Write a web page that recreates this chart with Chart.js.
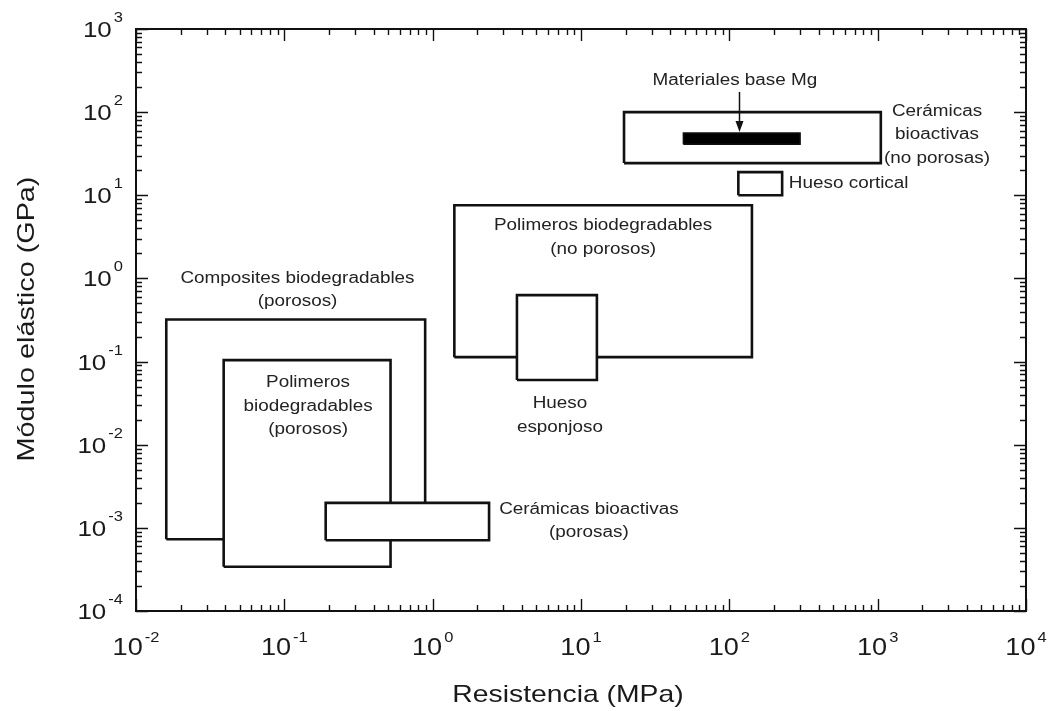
<!DOCTYPE html>
<html><head><meta charset="utf-8">
<script src="https://cdn.jsdelivr.net/npm/chart.js@4/dist/chart.umd.min.js"></script>
<style>html,body{margin:0;padding:0;background:#fff;}canvas{display:block;}</style>
</head><body>
<canvas id="c" width="1051" height="711"></canvas>
<script>
// ---- data ----
const materials = ['Composites biodegradables (porosos)', 'Polimeros biodegradables (porosos)', 'Cerámicas bioactivas (porosas)', 'Polimeros biodegradables (no porosos)', 'Hueso esponjoso', 'Cerámicas bioactivas (no porosas)', 'Materiales base Mg', 'Hueso cortical'];
const strengthMin = [0.016, 0.039, 0.19, 1.4, 3.7, 19.5, 49, 115];      // MPa
const strengthMax = [0.89, 0.52, 2.4, 142, 12.8, 1050, 300, 227];       // MPa
const modulusMin  = [7.3e-4, 3.4e-4, 7.1e-4, 0.113, 0.060, 24.4, 41, 10]; // GPa
const modulusMax  = [0.32, 0.104, 2.0e-3, 7.6, 0.63, 100, 56, 19];      // GPa
const solidMaterial = 'Materiales base Mg';

const xTickExponents = ['-2', '-1', '0', '1', '2', '3', '4'];
const yTickExponents = ['-4', '-3', '-2', '-1', '0', '1', '2', '3'];
const minorMultipliers = [2, 3, 4, 5, 6, 7, 8, 9];

const xTitle = 'Resistencia (MPa)';
const yTitle = 'Módulo elástico (GPa)';

// annotation texts and their anchors (data coordinates)
const noteLines = [['Materiales base Mg'], ['Cerámicas', 'bioactivas', '(no porosas)'], ['Hueso cortical'], ['Polimeros biodegradables', '(no porosos)'], ['Composites biodegradables', '(porosos)'], ['Polimeros', 'biodegradables', '(porosos)'], ['Hueso', 'esponjoso'], ['Cerámicas bioactivas', '(porosas)']];
const noteX = [109, 2512, 252, 14.1, 0.1227, 0.1445, 7.21, 11.3];
const noteY = [244, 106, 14.1, 4.4, 1.04, 0.0568, 0.0318, 1.73e-3];
const noteAlign = ['center', 'center', 'left', 'center', 'center', 'center', 'center', 'center'];

// arrow pointing to the Mg bar
const arrowX = [116, 116];
const arrowY = [175, 56];

// ---- drawing ----
const FONT = '"Liberation Sans", Arial, Helvetica, sans-serif';
const SX = 1.18;
const INK = '#111';

function drawText(ctx, s, x, y, size, align, sx) {
  sx = sx || SX;
  ctx.save();
  ctx.font = size + 'px ' + FONT;
  const w = ctx.measureText(s).width * sx;
  const x0 = align === 'center' ? x - w / 2 : (align === 'right' ? x - w : x);
  ctx.translate(x0, y);
  ctx.scale(sx, 1);
  ctx.textAlign = 'left';
  ctx.textBaseline = 'alphabetic';
  ctx.fillText(s, 0, 0);
  ctx.restore();
  return w;
}
function textWidth(ctx, s, size, sx) {
  ctx.save();
  ctx.font = size + 'px ' + FONT;
  const w = ctx.measureText(s).width * (sx || SX);
  ctx.restore();
  return w;
}

const decorPlugin = {
  id: 'decor',
  afterDatasetsDraw(chart) {
    const ctx = chart.ctx;
    const a = chart.chartArea;
    const xs = chart.scales.x, ys = chart.scales.y;
    ctx.save();
    ctx.strokeStyle = INK;
    ctx.fillStyle = INK;

    // minor + major ticks (inward, all four sides)
    ctx.lineWidth = 1.4;
    const xe = xTickExponents.map(Number), ye = yTickExponents.map(Number);
    ctx.beginPath();
    for (let i = 0; i < xe.length; i++) {
      const p = Math.round(xs.getPixelForValue(Math.pow(10, xe[i]))) + 0.5;
      ctx.moveTo(p, a.bottom); ctx.lineTo(p, a.bottom - 12);
      ctx.moveTo(p, a.top); ctx.lineTo(p, a.top + 12);
      if (i < xe.length - 1) {
        for (const m of minorMultipliers) {
          const q = Math.round(xs.getPixelForValue(m * Math.pow(10, xe[i]))) + 0.5;
          ctx.moveTo(q, a.bottom); ctx.lineTo(q, a.bottom - 6);
          ctx.moveTo(q, a.top); ctx.lineTo(q, a.top + 6);
        }
      }
    }
    for (let i = 0; i < ye.length; i++) {
      const p = Math.round(ys.getPixelForValue(Math.pow(10, ye[i]))) + 0.5;
      ctx.moveTo(a.left, p); ctx.lineTo(a.left + 12, p);
      ctx.moveTo(a.right, p); ctx.lineTo(a.right - 12, p);
      if (i < ye.length - 1) {
        for (const m of minorMultipliers) {
          const q = Math.round(ys.getPixelForValue(m * Math.pow(10, ye[i]))) + 0.5;
          ctx.moveTo(a.left, q); ctx.lineTo(a.left + 6, q);
          ctx.moveTo(a.right, q); ctx.lineTo(a.right - 6, q);
        }
      }
    }
    ctx.stroke();

    // frame
    ctx.lineWidth = 2;
    ctx.strokeRect(a.left, a.top, a.right - a.left, a.bottom - a.top);

    // tick labels
    ctx.fillStyle = '#1a1a1a';
    for (let i = 0; i < xTickExponents.length; i++) {
      const p = xs.getPixelForValue(Math.pow(10, xe[i]));
      const wb = textWidth(ctx, '10', 23), we = textWidth(ctx, xTickExponents[i], 14);
      const left = p - (wb + 2 + we) / 2;
      drawText(ctx, '10', left, a.bottom + 44, 23, 'left');
      drawText(ctx, xTickExponents[i], left + wb + 2, a.bottom + 31, 14, 'left');
    }
    for (let i = 0; i < yTickExponents.length; i++) {
      const p = ys.getPixelForValue(Math.pow(10, ye[i]));
      const right = a.left - 13;
      const we = drawText(ctx, yTickExponents[i], right, p - 7, 14, 'right');
      drawText(ctx, '10', right - we - 2, p + 8, 22, 'right');
    }

    // axis titles
    drawText(ctx, xTitle, 568, a.bottom + 91, 24, 'center', 1.18);
    ctx.save();
    ctx.translate(34, 319);
    ctx.rotate(-Math.PI / 2);
    drawText(ctx, yTitle, 0, 0, 24, 'center', 1.2);
    ctx.restore();

    // annotations
    ctx.fillStyle = '#222';
    for (let i = 0; i < noteLines.length; i++) {
      const px = xs.getPixelForValue(noteX[i]);
      const py = ys.getPixelForValue(noteY[i]);
      noteLines[i].forEach((line, k) => {
        drawText(ctx, line, px, py + 5.5 + k * 23.5, 16, noteAlign[i]);
      });
    }

    // arrow
    const ax = Math.round(xs.getPixelForValue(arrowX[0])) + 0.5;
    const ay0 = ys.getPixelForValue(arrowY[0]);
    const ay1 = ys.getPixelForValue(arrowY[1]);
    ctx.lineWidth = 1.5;
    ctx.beginPath();
    ctx.moveTo(ax, ay0); ctx.lineTo(ax, ay1 - 10);
    ctx.stroke();
    ctx.fillStyle = INK;
    ctx.beginPath();
    ctx.moveTo(ax - 4, ay1 - 12); ctx.lineTo(ax + 4, ay1 - 12); ctx.lineTo(ax, ay1 - 1);
    ctx.closePath();
    ctx.fill();
    ctx.restore();
  }
};

const datasets = materials.map((name, i) => {
  const solid = name === solidMaterial;
  return {
    label: name,
    data: [
      {x: strengthMin[i], y: modulusMin[i]},
      {x: strengthMax[i], y: modulusMin[i]},
      {x: strengthMax[i], y: modulusMax[i]},
      {x: strengthMin[i], y: modulusMax[i]},
      {x: strengthMin[i], y: modulusMin[i]}
    ],
    order: materials.length - i,
    borderColor: INK,
    backgroundColor: solid ? '#000' : '#fff',
    borderWidth: solid ? 1.5 : 2.6,
    borderJoinStyle: 'miter',
    fill: 'shape',
    pointRadius: 0,
    pointHoverRadius: 0,
    tension: 0
  };
});

new Chart(document.getElementById('c'), {
  type: 'line',
  data: {datasets},
  options: {
    responsive: false,
    animation: false,
    devicePixelRatio: 1,
    events: [],
    layout: {padding: {left: 136, right: 25, top: 29, bottom: 100}},
    plugins: {legend: {display: false}, tooltip: {enabled: false}, title: {display: false}},
    scales: {
      x: {type: 'logarithmic', min: 0.01, max: 10000, display: false},
      y: {type: 'logarithmic', min: 1e-4, max: 1000, display: false}
    }
  },
  plugins: [decorPlugin]
});
</script>
</body></html>
